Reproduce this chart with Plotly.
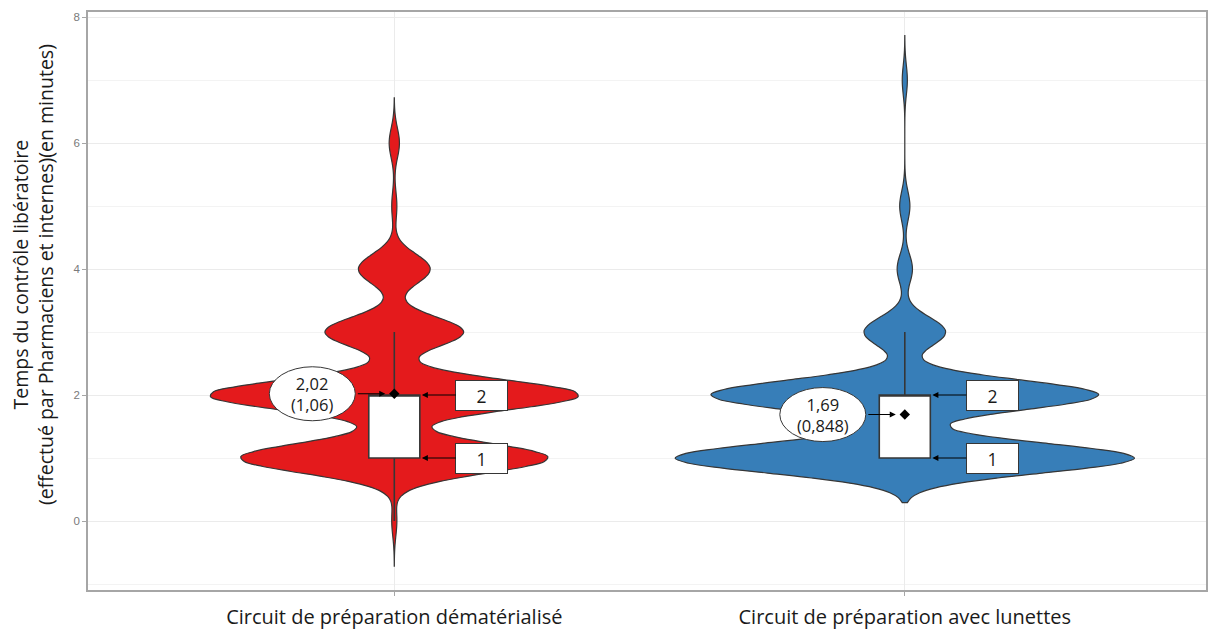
import numpy as np
import plotly.graph_objects as go

# --- data -------------------------------------------------------------------
categories = ["Circuit de préparation dématérialisé",
              "Circuit de préparation avec lunettes"]

# observed control times (minutes) and how many preparations took each time
minutes = [0, 1, 2, 3, 4, 5, 6, 7]
counts_dematerialise = [1, 60, 72, 27, 14, 1, 2, 0]
counts_lunettes = [0, 90, 76, 16, 3, 2, 0, 1]

# summary statistics shown on the chart
means = [2.02, 1.69]
sds = [1.06, 0.848]
q1 = [1, 1]
medians = [2, 2]
q3 = [2, 2]
lower_whisker = [0, 1]
upper_whisker = [3, 3]

# --- styling ----------------------------------------------------------------
fill_colors = ["#E41A1C", "#377EB8"]
violin_widths = [0.72, 0.9]
outline = "#363636"
text_font = "Open Sans"


def fmt(v):
    return f"{v:g}".replace(".", ",")


def nrd0(sample):
    """Silverman's rule of thumb as used by R's density()."""
    sd = np.std(sample, ddof=1)
    iqr = np.subtract(*np.percentile(sample, [75, 25]))
    return 0.9 * min(sd, iqr / 1.34) * len(sample) ** -0.2


fig = go.Figure()

for i, counts in enumerate([counts_dematerialise, counts_lunettes]):
    sample = np.repeat(minutes, counts).astype(float)
    bw = nrd0(sample)
    fig.add_trace(go.Violin(
        x=[categories[i]] * len(sample), y=sample, name=categories[i],
        fillcolor=fill_colors[i], line=dict(color=outline, width=1.2),
        opacity=1, points=False, bandwidth=bw, spanmode="manual",
        span=[sample.min() - 3 * bw, sample.max() + 3 * bw],
        scalemode="width", width=violin_widths[i], hoverinfo="skip",
    ))

fig.add_trace(go.Box(
    x=categories, q1=q1, median=medians, q3=q3,
    lowerfence=lower_whisker, upperfence=upper_whisker,
    width=0.1, whiskerwidth=0, fillcolor="white",
    line=dict(color=outline, width=1.6), boxpoints=False, hoverinfo="skip",
))

fig.add_trace(go.Scatter(
    x=categories, y=means, mode="markers",
    marker=dict(symbol="diamond", size=8, color="black"), hoverinfo="skip",
))

annotations = []
shapes = []
for i in range(len(categories)):
    # ellipse with mean (sd)
    shapes.append(dict(
        type="circle", xref="x", yref="y",
        xsizemode="pixel", ysizemode="pixel",
        xanchor=i, yanchor=means[i],
        x0=-82 - 43, x1=-82 + 43, y0=-27, y1=27,
        fillcolor="white", line=dict(color=outline, width=1), layer="above",
    ))
    annotations.append(dict(
        x=i, y=means[i], xref="x", yref="y", xshift=-82,
        text=f"{fmt(means[i])}<br>({fmt(sds[i])})", showarrow=False,
        font=dict(family=text_font, size=16.5, color="#1a1a1a"),
    ))
    annotations.append(dict(
        x=i, y=means[i], xref="x", yref="y", text="",
        showarrow=True, ax=-38, ay=0, standoff=9,
        arrowhead=2, arrowsize=1.1, arrowwidth=1.1, arrowcolor="black",
    ))
    # quartile labels pointing at the box edge
    for val in (q3[i], q1[i]):
        annotations.append(dict(
            x=i + 0.05, y=val, xref="x", yref="y", text=fmt(val),
            showarrow=True, ax=62, ay=0, standoff=2,
            arrowhead=2, arrowsize=1.1, arrowwidth=1.1, arrowcolor="black",
            bgcolor="white", bordercolor=outline, borderwidth=1, borderpad=0,
            width=51, height=29,
            font=dict(family=text_font, size=17.5, color="#1a1a1a"),
        ))

annotations.append(dict(
    xref="paper", yref="paper", x=(33 - 88) / 1120, y=(590 - 275) / 578,
    xanchor="center", yanchor="middle", textangle=-90, showarrow=False,
    text="Temps du contrôle libératoire<br>(effectué par Pharmaciens et internes)(en minutes)",
    font=dict(family=text_font, size=19.5, color="#1a1a1a"),
))

fig.update_layout(
    width=1208, height=630,
    margin=dict(l=88, r=0, t=12, b=40),
    paper_bgcolor="white", plot_bgcolor="white",
    showlegend=False, violinmode="overlay", boxmode="overlay",
    shapes=shapes, annotations=annotations,
    xaxis=dict(
        type="category", range=[-0.6, 1.59],
        showgrid=True, gridcolor="#ebebeb", gridwidth=1,
        showline=True, linecolor="#a6a6a6", linewidth=1.5, mirror=True,
        ticks="outside", ticklen=4, tickcolor="#a6a6a6",
        ticklabelstandoff=4,
        tickfont=dict(family=text_font, size=20, color="#1a1a1a"),
        zeroline=False,
    ),
    yaxis=dict(
        range=[-1.095, 8.08], tickvals=[0, 2, 4, 6, 8],
        showgrid=True, gridcolor="#ebebeb", gridwidth=1,
        minor=dict(tickvals=[-1, 1, 3, 5, 7], showgrid=True,
                   gridcolor="#f3f3f3", gridwidth=1),
        showline=True, linecolor="#a6a6a6", linewidth=1.5, mirror=True,
        ticks="outside", ticklen=4, tickcolor="#a6a6a6",
        tickfont=dict(family="Liberation Sans", size=11.5, color="#7a7a7a"),
        zeroline=False,
    ),
)

fig.write_html("out.html")
